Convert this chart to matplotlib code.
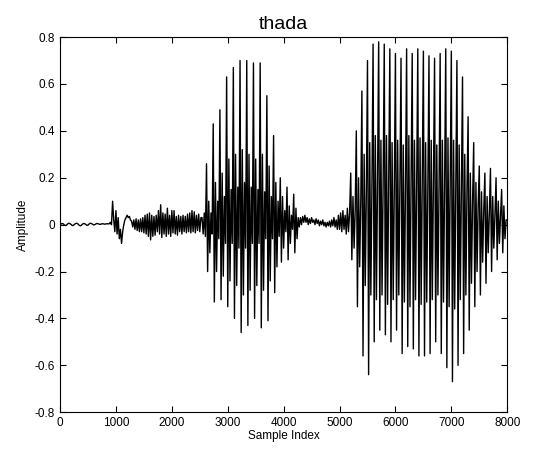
import numpy as np
import matplotlib
matplotlib.use("Agg")
import matplotlib.pyplot as plt

# waveform, one value every 20 samples
STEP = 20

# 0..860: near-silent lead-in
lead = [0.00, 0.003, 0.005, 0.003, -0.002, -0.004, -0.001, 0.004, 0.006, 0.004,
        0.0, -0.004, -0.003, 0.002, 0.005, 0.006, 0.003, -0.002, -0.005, -0.003,
        0.002, 0.005, 0.004, 0.001, -0.003, -0.002, 0.003, 0.006, 0.005, 0.002,
        -0.001, 0.0, 0.003, 0.005, 0.004, 0.002, 0.001, 0.003, 0.004, 0.003,
        0.002, 0.003, 0.004, 0.003]

# 880..2520: fricative noise
fric = [0.004, 0.01, 0.0, 0.10, 0.02, -0.03, 0.06, -0.04, 0.03, -0.06,
        -0.02, -0.08, -0.03, 0.0, 0.02, 0.03, 0.04, 0.03, 0.035, 0.02,
        0.015, -0.01, 0.02, -0.02, 0.025, -0.025, 0.02, -0.03, 0.025, -0.03,
        0.03, -0.035, 0.04, -0.04, 0.045, -0.05, 0.05, -0.065, 0.04, -0.05,
        0.035, -0.045, 0.04, -0.03, 0.06, -0.04, 0.085, -0.055, 0.05, -0.04,
        0.045, -0.05, 0.07, -0.04, 0.04, -0.05, 0.06, -0.035, 0.06, -0.04,
        0.035, -0.045, 0.04, -0.03, 0.035, -0.04, 0.04, -0.03, 0.035, -0.035,
        0.045, -0.03, 0.05, -0.035, 0.06, -0.03, 0.055, -0.035, 0.04, -0.025,
        0.045, -0.03, 0.03]

# 2540..4280: first vowel, short onset then 14 pitch periods
vowel1 = [0.03, -0.04, 0.05, -0.05,
          0.26, -0.20, 0.10, -0.12, 0.05, -0.04,
          0.43, -0.33, 0.18, -0.20, 0.10, -0.06,
          0.49, -0.32, 0.22, -0.22, 0.12, -0.08,
          0.63, -0.35, 0.28, -0.24, 0.15, -0.08,
          0.67, -0.40, 0.30, -0.26, 0.16, -0.10,
          0.70, -0.46, 0.32, -0.30, 0.18, -0.10,
          0.70, -0.43, 0.30, -0.28, 0.16, -0.08,
          0.69, -0.40, 0.28, -0.26, 0.15, -0.08,
          0.69, -0.44, 0.30, -0.28, 0.14, -0.06,
          0.55, -0.41, 0.25, -0.24, 0.12, -0.06,
          0.38, -0.29, 0.18, -0.18, 0.10, -0.05,
          0.20, -0.16, 0.12, -0.10, 0.06, -0.03,
          0.16, -0.15, 0.08, -0.08, 0.04, -0.02,
          0.13, -0.12, 0.07, -0.06, 0.03, -0.01]

# 4300..5180: gap between vowels
gap = [0.03, 0.0, 0.035, 0.01,
       0.04, 0.01, 0.03, 0.0, 0.025, 0.005, 0.03, 0.01, 0.02, 0.0,
       0.025, 0.005, 0.02, -0.005, 0.015, 0.0, 0.02, -0.005, 0.01, -0.01,
       0.01, -0.005, 0.015, -0.01, 0.02, -0.005, 0.03, -0.01, 0.02, -0.02,
       0.04, -0.02, 0.05, -0.03, 0.06, -0.02, 0.04, -0.04, 0.07, -0.03,
       0.05]

# 5200..7280: second vowel, 21 pitch periods
vowel2 = [0.22, -0.15, 0.12, -0.10, 0.06,
          0.40, -0.35, 0.20, -0.18, 0.10,
          0.57, -0.56, 0.30, -0.26, 0.15,
          0.70, -0.64, 0.35, -0.30, 0.18,
          0.77, -0.50, 0.38, -0.32, 0.20,
          0.78, -0.45, 0.36, -0.30, 0.18,
          0.77, -0.47, 0.38, -0.34, 0.20,
          0.75, -0.50, 0.35, -0.32, 0.16,
          0.73, -0.45, 0.36, -0.30, 0.18,
          0.71, -0.55, 0.34, -0.33, 0.17,
          0.75, -0.52, 0.38, -0.35, 0.20,
          0.73, -0.53, 0.36, -0.32, 0.18,
          0.75, -0.56, 0.37, -0.34, 0.19,
          0.74, -0.56, 0.35, -0.33, 0.17,
          0.72, -0.55, 0.36, -0.32, 0.18,
          0.71, -0.50, 0.34, -0.30, 0.16,
          0.73, -0.55, 0.36, -0.33, 0.18,
          0.75, -0.61, 0.37, -0.35, 0.19,
          0.74, -0.67, 0.36, -0.36, 0.18,
          0.70, -0.60, 0.34, -0.32, 0.16,
          0.63, -0.55, 0.30, -0.30, 0.15]

# 7300..8000: decaying tail
tail = [0.46, -0.45, 0.22, -0.25, 0.10,
        0.35, -0.35, 0.18, -0.20, 0.08,
        0.25, -0.30, 0.14, -0.16, 0.06,
        0.22, -0.25, 0.12, -0.12, 0.05,
        0.24, -0.20, 0.12, -0.10, 0.04,
        0.20, -0.15, 0.10, -0.08, 0.03,
        0.15, -0.12, 0.08, -0.06, 0.02,
        0.02]

amp = np.array(lead + fric + vowel1 + gap + vowel2 + tail)
idx = np.arange(len(amp)) * STEP

xticks = list(range(0, 8001, 1000))
yticks = [-0.8, -0.6, -0.4, -0.2, 0, 0.2, 0.4, 0.6, 0.8]
ylabels = ["-0.8", "-0.6", "-0.4", "-0.2", "0", "0.2", "0.4", "0.6", "0.8"]

plt.rcParams["font.family"] = ["Liberation Sans", "DejaVu Sans"]
fig = plt.figure(figsize=(5.46, 4.58), dpi=100)
ax = fig.add_axes([0.110, 0.100, 0.819, 0.819])
ax.plot(idx, amp, color="black", lw=1.0)
ax.set_xlim(0, 8000)
ax.set_ylim(-0.8, 0.8)
ax.set_xticks(xticks)
ax.set_yticks(yticks)
ax.set_yticklabels(ylabels)
ax.tick_params(direction="in", top=True, right=True, labelsize=8.5, length=4, width=0.8)
for s in ax.spines.values():
    s.set_linewidth(0.8)
ax.set_xlabel("Sample Index", fontsize=8.5, labelpad=1)
ax.set_ylabel("Amplitude", fontsize=8.5, labelpad=4)
ax.set_title("thada", fontsize=14, pad=6)
fig.savefig("out.png")
